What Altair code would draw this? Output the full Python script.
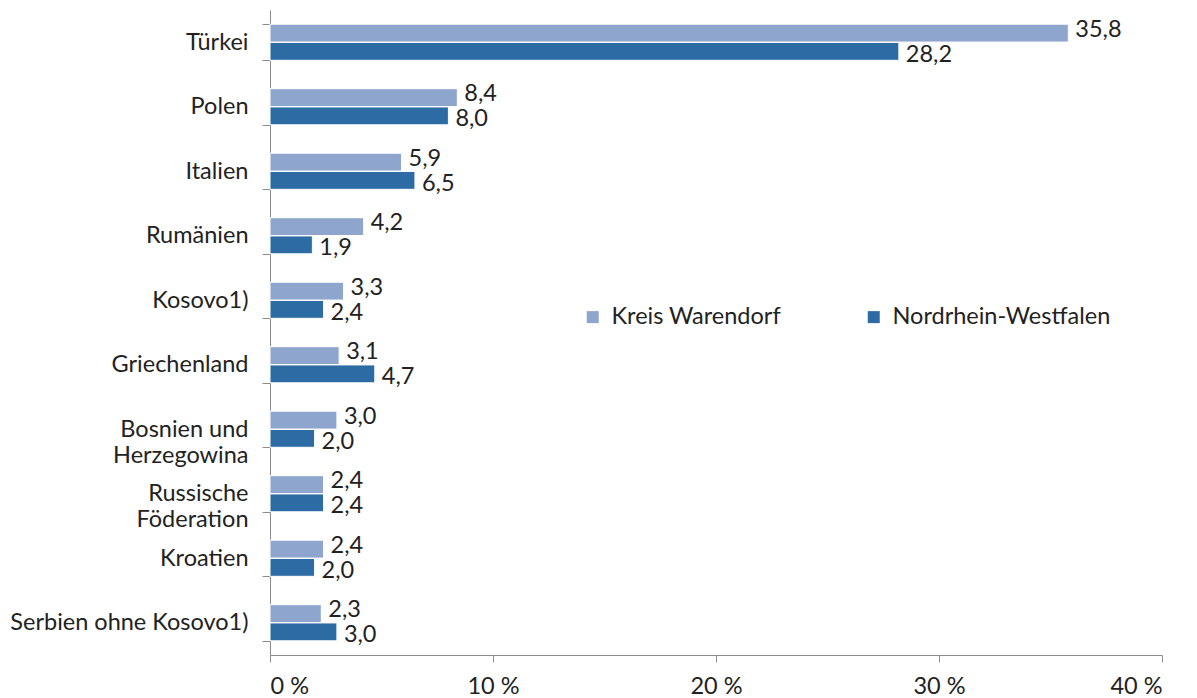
import altair as alt
import pandas as pd

countries = ["Türkei", "Polen", "Italien", "Rumänien", "Kosovo1)", "Griechenland",
             "Bosnien und|Herzegowina", "Russische|Föderation", "Kroatien",
             "Serbien ohne Kosovo1)"]
warendorf = [35.8, 8.4, 5.9, 4.2, 3.3, 3.1, 3.0, 2.4, 2.4, 2.3]
nrw = [28.2, 8.0, 6.5, 1.9, 2.4, 4.7, 2.0, 2.4, 2.0, 3.0]
series = ["Kreis Warendorf", "Nordrhein-Westfalen"]
colors = ["#8EA5CE", "#2C6BA4"]
x_ticks = [0, 10, 20, 30, 40]

rows = []
for i, c in enumerate(countries):
    for s, vals in zip(series, [warendorf, nrw]):
        v = vals[i]
        rows.append({"land": c, "serie": s, "wert": v,
                     "label": f"{v:.1f}".replace(".", ",")})
df = pd.DataFrame(rows)

FONT = "Lato"
FS = 23.5
TXT = "#222222"

y_enc = alt.Y("land:N", sort=countries,
              scale=alt.Scale(paddingInner=0.44, paddingOuter=0.22),
              axis=alt.Axis(title=None, tickBand="extent", tickSize=8,
                            tickColor="#8c8c8c", domainColor="#8c8c8c",
                            labelPadding=14, labelFontSize=FS, labelFont=FONT,
                            labelColor=TXT, labelLineHeight=26,
                            labelExpr="split(datum.label, '|')", labelLimit=400))
x_enc = alt.X("wert:Q", scale=alt.Scale(domain=[0, 40], nice=False),
              axis=alt.Axis(title=None, values=x_ticks, grid=False, tickSize=7,
                            tickColor="#8c8c8c", domainColor="#8c8c8c",
                            labelPadding=12, labelFontSize=FS, labelFont=FONT,
                            labelColor=TXT, labelExpr="datum.value + ' %'"))
yoff = alt.YOffset("serie:N", sort=series, scale=alt.Scale(paddingInner=0.02))

bars = alt.Chart(df).mark_bar(stroke="white", strokeWidth=1).encode(
    x=x_enc, y=y_enc, yOffset=yoff,
    color=alt.Color("serie:N", sort=series,
                    scale=alt.Scale(domain=series, range=colors),
                    legend=alt.Legend(title=None, orient="none", legendX=311, legendY=295,
                                      direction="horizontal", symbolType="square",
                                      symbolSize=144, symbolStrokeWidth=0,
                                      labelFontSize=FS, labelFont=FONT, labelColor=TXT,
                                      labelLimit=400, columnPadding=81, labelOffset=7))
)


def value_text(s, dy):
    return alt.Chart(df).transform_filter(alt.datum.serie == s).mark_text(
        align="left", baseline="middle", dx=7, dy=dy,
        fontSize=FS, font=FONT, color=TXT).encode(
        x=alt.X("wert:Q"), y=alt.Y("land:N", sort=countries), yOffset=yoff,
        text="label:N")


chart = (bars + value_text(series[0], -3.5) + value_text(series[1], 3.5)).properties(
    width=892, height=645,
    autosize=alt.AutoSizeParams(type="none"),
    padding={"left": 262, "top": 2, "right": 26, "bottom": 43}
).configure_view(stroke=None)

chart.save("out.html", embed_options={"renderer": "svg", "actions": False})
